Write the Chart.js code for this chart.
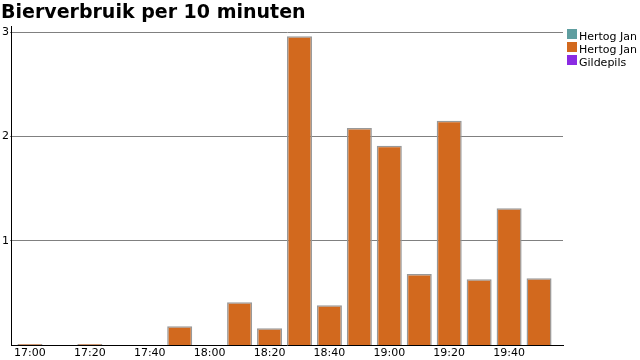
<!DOCTYPE html>
<html>
<head>
<meta charset="utf-8">
<script src="https://cdn.jsdelivr.net/npm/chart.js@4/dist/chart.umd.min.js"></script>
<style>
  html, body { margin: 0; padding: 0; background: #ffffff; }
  #wrap { position: relative; width: 640px; height: 360px; overflow: hidden; }
  #legenda { position: absolute; left: 567px; top: 29px; font: 11px 'DejaVu Sans'; color: #000; }
  #legenda .rij { position: relative; height: 13px; white-space: nowrap; }
  #legenda .blok { position: absolute; left: 0; top: 0; width: 10px; height: 10px; }
  #legenda .tekst { position: absolute; left: 12px; top: 1px; line-height: 13px; }
</style>
</head>
<body>
<div id="wrap">
  <canvas id="bier" width="640" height="362"></canvas>
  <div id="legenda"></div>
</div>
<script>
// minuten na 17:00, per blok van 10 minuten
const minuten = [0, 10, 20, 30, 40, 50, 60, 70, 80, 90, 100, 110, 120, 130, 140, 150, 160, 170];
const hertogJanA = [0, 0, 0, 0, 0, 0, 0, 0, 0, 0, 0, 0, 0, 0, 0, 0, 0, 0];
const hertogJanB = [0.01, 0, 0.01, 0, 0, 0.18, 0, 0.41, 0.16, 2.96, 0.38, 2.08, 1.91, 0.68, 2.15, 0.63, 1.31, 0.64];
const gildepils = [0, 0, 0, 0, 0, 0, 0, 0, 0, 0, 0, 0, 0, 0, 0, 0, 0, 0];
const yTicks = [1, 2, 3];
const xTicks = [0, 20, 40, 60, 80, 100, 120, 140, 160];

const FONT = 'DejaVu Sans';

function tijd(m) {
  const t = 17 * 60 + m;
  const h = Math.floor(t / 60);
  const mm = t % 60;
  return h + ':' + String(mm).padStart(2, '0');
}

function punten(values) {
  return minuten.map((m, i) => ({ x: m, y: values[i] }));
}

const datasets = [
  { label: 'Hertog Jan', data: punten(hertogJanA), backgroundColor: '#5f9ea0', borderColor: '#999999', borderWidth: 0 },
  { label: 'Hertog Jan', data: punten(hertogJanB), backgroundColor: '#d2691e', borderColor: '#999999', borderWidth: 1.5 },
  { label: 'Gildepils', data: punten(gildepils), backgroundColor: '#8a2be2', borderColor: '#999999', borderWidth: 0 },
].map((d) => Object.assign(d, { barThickness: 25, inflateAmount: 0 }));

const chart = new Chart(document.getElementById('bier'), {
  type: 'bar',
  data: { datasets },
  options: {
    responsive: false,
    animation: false,
    layout: { padding: { left: 1, right: 77, top: 0, bottom: 0 } },
    plugins: {
      title: {
        display: true,
        text: 'Bierverbruik per 10 minuten',
        align: 'start',
        color: '#000000',
        font: { family: FONT, size: 19, weight: 'bold' },
        padding: { top: 2, bottom: 2 },
      },
      legend: { display: false },
      tooltip: { enabled: false },
    },
    scales: {
      x: {
        type: 'linear',
        stacked: true,
        offset: false,
        min: -6,
        max: 178,
        afterBuildTicks(axis) {
          axis.ticks = xTicks.map((v) => ({ value: v }));
        },
        ticks: {
          color: '#000000',
          font: { family: FONT, size: 11, lineHeight: 1 },
          padding: 3,
          maxRotation: 0,
          callback: (v) => tijd(v),
        },
        grid: { display: false, drawTicks: false },
        border: { display: true, color: '#000000', width: 1 },
      },
      y: {
        stacked: true,
        min: 0,
        max: 3.05,
        afterBuildTicks(axis) {
          axis.ticks = yTicks.map((v) => ({ value: v }));
        },
        ticks: {
          color: '#000000',
          font: { family: FONT, size: 11 },
          padding: 1,
        },
        grid: { color: '#808080', tickLength: 2, lineWidth: 1 },
        border: { display: true, color: '#000000', width: 1 },
      },
    },
  },
});

// legenda naast de grafiek
const legenda = document.getElementById('legenda');
chart.data.datasets.forEach((d) => {
  const rij = document.createElement('div');
  rij.className = 'rij';
  rij.innerHTML = `<span class="blok" style="background:${d.backgroundColor}"></span><span class="tekst">${d.label}</span>`;
  legenda.appendChild(rij);
});
</script>
</body>
</html>
